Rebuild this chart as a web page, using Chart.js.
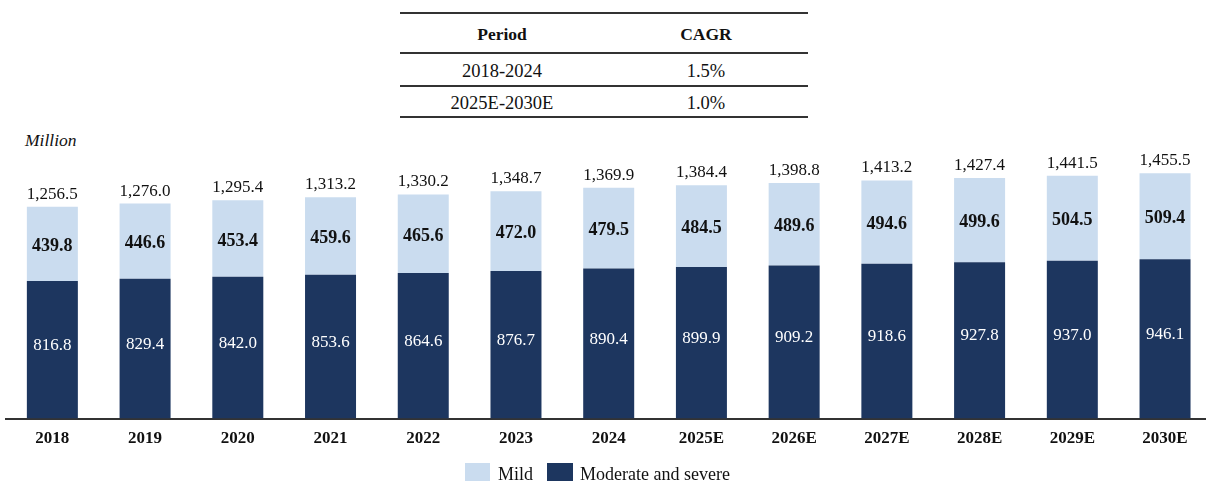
<!DOCTYPE html>
<html>
<head>
<meta charset="utf-8">
<script src="https://cdn.jsdelivr.net/npm/chart.js@4/dist/chart.umd.min.js"></script>
<style>
    html, body { margin: 0; padding: 0; background: #fff; overflow: hidden; }
    body { width: 1206px; height: 482px; position: relative; font-family: "Liberation Serif", "Times New Roman", serif; color: #111; }
    #wrap { position: absolute; left: 0; top: 0; width: 1220px; height: 482px; }
    .abs { position: absolute; white-space: nowrap; }
    .rule { position: absolute; left: 400px; width: 408px; height: 2px; background: #333; }
    .cell { position: absolute; width: 204px; height: 30px; line-height: 30px; text-align: center; font-size: 18.5px; }
    .cell.head { font-weight: bold; font-size: 17.5px; }
    .unit { left: 25px; top: 132px; font-style: italic; font-size: 17.5px; line-height: 17px; }
    .swatch { position: absolute; top: 463px; width: 25px; height: 18px; }
    .legtext { position: absolute; top: 465px; font-size: 18px; line-height: 18px; white-space: nowrap; }
</style>
</head>
<body>
<!-- CAGR summary table -->
<div class="rule" style="top:12px"></div>
<div class="rule" style="top:52px"></div>
<div class="rule" style="top:85px"></div>
<div class="rule" style="top:116px"></div>
<div class="cell head" style="left:400px; top:19px">Period</div>
<div class="cell head" style="left:604px; top:19px">CAGR</div>
<div class="cell" style="left:400px; top:56px">2018-2024</div>
<div class="cell" style="left:604px; top:56px">1.5%</div>
<div class="cell" style="left:400px; top:88px">2025E-2030E</div>
<div class="cell" style="left:604px; top:88px">1.0%</div>

<div class="abs unit">Million</div>
<div id="wrap"><canvas id="patientChart"></canvas></div>

<!-- legend -->
<div class="swatch" style="left:465px; background:#cadcef"></div>
<div class="legtext" style="left:498px">Mild</div>
<div class="swatch" style="left:547px; width:26px; background:#1d365f"></div>
<div class="legtext" style="left:580px">Moderate and severe</div>

<script>
const years = ["2018", "2019", "2020", "2021", "2022", "2023", "2024",
    "2025E", "2026E", "2027E", "2028E", "2029E", "2030E"];
const moderateSevere = [816.8, 829.4, 842.0, 853.6, 864.6, 876.7, 890.4,
    899.9, 909.2, 918.6, 927.8, 937.0, 946.1];
const mild = [439.8, 446.6, 453.4, 459.6, 465.6, 472.0, 479.5,
    484.5, 489.6, 494.6, 499.6, 504.5, 509.4];
const totals = [1256.5, 1276.0, 1295.4, 1313.2, 1330.2, 1348.7, 1369.9,
    1384.4, 1398.8, 1413.2, 1427.4, 1441.5, 1455.5];

const serif = '"Liberation Serif", "Times New Roman", serif';
const fmt = v => v.toLocaleString("en-US", { minimumFractionDigits: 1, maximumFractionDigits: 1 });

// segment values inside the bars, totals above them
const barLabels = {
    id: "barLabels",
    afterDatasetsDraw(chart) {
        const c = chart.ctx;
        c.save();
        c.textAlign = "center";
        c.textBaseline = "alphabetic";
        const dark = chart.getDatasetMeta(0).data;
        const light = chart.getDatasetMeta(1).data;
        dark.forEach((bar, i) => {
            c.font = "17px " + serif;
            c.fillStyle = "#ffffff";
            c.fillText(fmt(moderateSevere[i]), bar.x, (bar.y + bar.base) / 2);
        });
        light.forEach((bar, i) => {
            c.fillStyle = "#111";
            c.font = "bold 18px " + serif;
            c.fillText(fmt(mild[i]), bar.x, (bar.y + bar.base) / 2 + 7);
            c.font = "17px " + serif;
            c.fillText(fmt(totals[i]), bar.x, bar.y - 8);
        });
        c.restore();
    }
};

new Chart(document.getElementById("patientChart"), {
    type: "bar",
    data: {
        labels: years,
        datasets: [
            {
                label: "Moderate and severe",
                data: moderateSevere,
                backgroundColor: "#1d365f",
                barPercentage: 0.55,
                categoryPercentage: 1.0
            },
            {
                label: "Mild",
                data: mild,
                backgroundColor: "#cadcef",
                barPercentage: 0.55,
                categoryPercentage: 1.0
            }
        ]
    },
    options: {
        responsive: true,
        maintainAspectRatio: false,
        animation: false,
        layout: {
            padding: { top: 149, left: 6, right: 8.6, bottom: 23 }
        },
        scales: {
            x: {
                stacked: true,
                grid: { display: false, drawTicks: false },
                border: { color: "#333", width: 2 },
                ticks: {
                    color: "#111",
                    padding: 10,
                    font: { family: serif, size: 17, weight: "bold" }
                }
            },
            y: {
                stacked: true,
                display: false,
                min: 0,
                max: 1600
            }
        },
        plugins: {
            legend: { display: false },
            tooltip: { enabled: false }
        }
    },
    plugins: [barLabels]
});
</script>
</body>
</html>
